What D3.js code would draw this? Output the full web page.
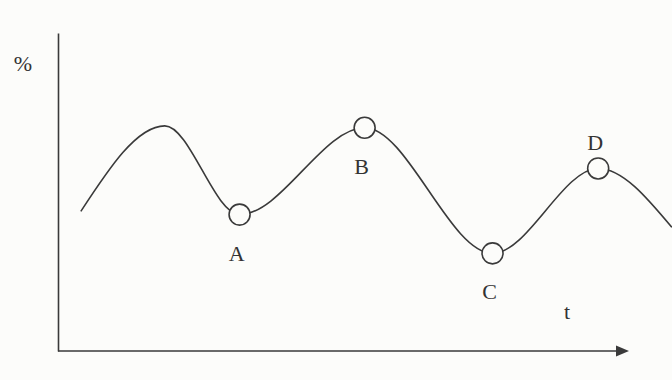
<!DOCTYPE html>
<html><head><meta charset="utf-8">
<script src="https://cdn.jsdelivr.net/npm/d3@7"></script>
<style>
html,body{margin:0;padding:0;background:#fcfcfa;}
svg{display:block;}
text{font-family:"Liberation Serif","Times New Roman",serif;fill:#333;}
</style></head>
<body>
<svg id="c" width="672" height="380"></svg>
<script>
// Curve through the drawn extrema (t, %)
const curveT = [4.0, 18.7, 31.8, 53.7, 76.1, 94.6, 107.5];
const curveV = [43.9, 70.8, 42.9, 70.2, 30.7, 57.4, 38.9];
// Marked points
const pointNames = ["A", "B", "C", "D"];
const pointT = [31.8, 53.7, 76.1, 94.6];
const pointV = [42.9, 70.2, 30.7, 57.4];
const labelSide = ["below", "below", "below", "above"];
const axisLabels = {y: "%", x: "t"};

const svg = d3.select("#c");
const x = d3.scaleLinear().domain([0, 100]).range([58, 629]);
const y = d3.scaleLinear().domain([0, 100]).range([351, 33]);
const ink = "#3a3a3a";

// axes
const gy = svg.append("g").attr("transform", `translate(${x(0)},0)`)
  .call(d3.axisLeft(y).tickValues([]).tickSizeOuter(0));
gy.select(".domain").attr("stroke", ink).attr("stroke-width", 1.6);
const gx = svg.append("g").attr("transform", `translate(0,${y(0)})`)
  .call(d3.axisBottom(x).tickValues([]).tickSizeOuter(0));
gx.select(".domain").attr("stroke", ink).attr("stroke-width", 1.6)
  .attr("d", `M${x(0)},0H${x(100) - 10}`);
// arrow head
const ax = x(100), ay = y(0);
svg.append("path").attr("d", `M${ax},${ay}L${ax - 13},${ay - 5.5}L${ax - 13},${ay + 5.5}Z`)
  .attr("fill", ink);

// axis labels
svg.append("text").attr("x", 23).attr("y", 71).attr("text-anchor", "middle")
  .attr("font-size", 22).text(axisLabels.y);
svg.append("text").attr("x", 567).attr("y", 319).attr("text-anchor", "middle")
  .attr("font-size", 22).text(axisLabels.x);

// curve
const pts = curveT.map((t, i) => [t, curveV[i]]);
const line = d3.line().x(d => x(d[0])).y(d => y(d[1])).curve(d3.curveMonotoneX);
svg.append("path").datum(pts).attr("d", line)
  .attr("fill", "none").attr("stroke", ink).attr("stroke-width", 1.6);

// points
pointNames.forEach((n, i) => {
  const cx = x(pointT[i]), cy = y(pointV[i]);
  svg.append("circle").attr("cx", cx).attr("cy", cy).attr("r", 10.5)
    .attr("fill", "#fcfcfa").attr("stroke", ink).attr("stroke-width", 1.6);
  const ty = labelSide[i] === "below" ? cy + 46 : cy - 18;
  svg.append("text").attr("x", cx - 3).attr("y", ty).attr("text-anchor", "middle")
    .attr("font-size", 22).text(n);
});
</script>
</body></html>
